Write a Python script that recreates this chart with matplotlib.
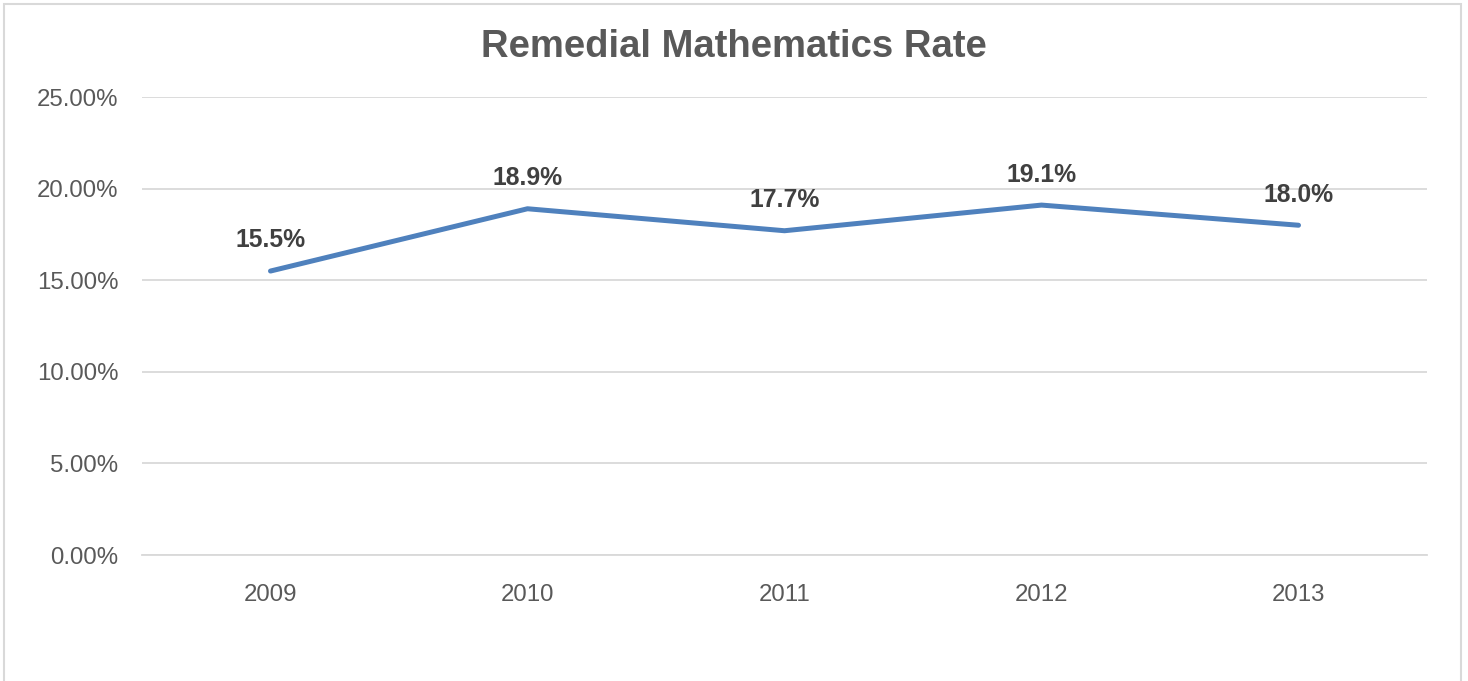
import matplotlib.pyplot as plt
from matplotlib.patches import Rectangle
from matplotlib.ticker import FuncFormatter

years = ['2009', '2010', '2011', '2012', '2013']
rates = [15.5, 18.9, 17.7, 19.1, 18.0]
y_ticks = [0, 5, 10, 15, 20, 25]

plt.rcParams['font.family'] = ['Liberation Sans', 'DejaVu Sans']

fig = plt.figure(figsize=(14.68, 6.81), dpi=100)
ax = fig.add_axes([142 / 1468, 1 - 555 / 681, (1427 - 142) / 1468, (555 - 97) / 681])

# outer chart border
fig.patches.append(Rectangle((4 / 1468, -0.01), (1461 - 4) / 1468, 1 - 4 / 681 + 0.01,
                             transform=fig.transFigure, fill=False,
                             edgecolor='#d9d9d9', linewidth=1.5))

x = list(range(len(years)))
ax.plot(x, rates, color='#4f81bd', linewidth=3.6, solid_capstyle='round', zorder=3)

for xi, r in zip(x, rates):
    ax.annotate(f'{r:.1f}%', (xi, r), xytext=(0, 22), textcoords='offset points',
                ha='center', va='center', fontsize=17.8, fontweight='bold', color='#404040')

ax.set_xlim(-0.5, len(years) - 0.5)
ax.set_ylim(0, 25)
ax.set_yticks(y_ticks)
ax.yaxis.set_major_formatter(FuncFormatter(lambda v, p: f'{v:.2f}%'))
ax.set_xticks(x)
ax.set_xticklabels(years)

ax.grid(axis='y', color='#d9d9d9', linewidth=1.3)
ax.set_axisbelow(True)
for s in ['top', 'right', 'left']:
    ax.spines[s].set_visible(False)
ax.spines['bottom'].set_color('#d9d9d9')
ax.spines['bottom'].set_linewidth(1.3)
ax.tick_params(axis='both', length=0, labelsize=17.3, labelcolor='#595959')
ax.tick_params(axis='x', pad=21)
ax.tick_params(axis='y', pad=17)

fig.text(0.5, 1 - 47 / 681, 'Remedial Mathematics Rate', ha='center', va='center',
         fontsize=27.5, fontweight='bold', color='#595959')

fig.savefig('out.png', dpi=100)
